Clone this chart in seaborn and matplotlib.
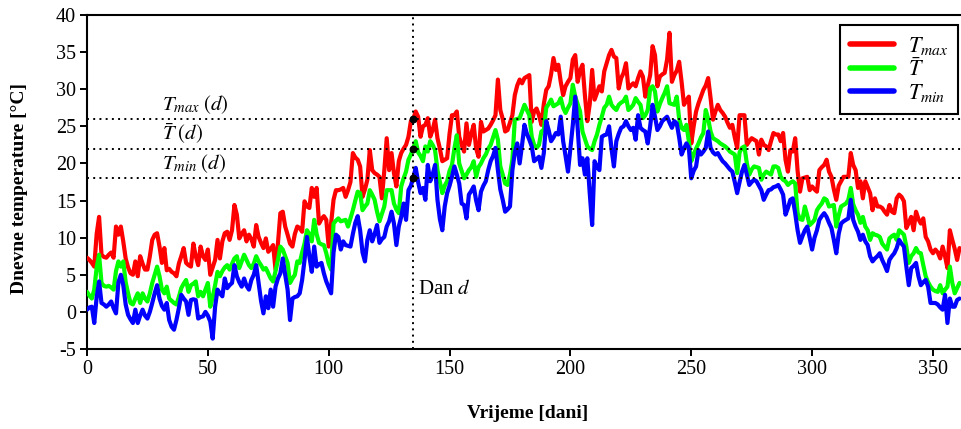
import numpy as np
import pandas as pd
import matplotlib
matplotlib.use("Agg")
import matplotlib.pyplot as plt
import seaborn as sns

# ---------------- data ----------------
days = list(range(362))

t_max = [
    7.3, 7.0, 6.6, 6.1, 10.5, 12.8, 7.7, 7.4, 7.3, 7.7,
    8.0, 7.3, 11.5, 10.4, 11.5, 9.5, 7.2, 6.0, 5.2, 5.0,
    6.8, 4.8, 7.5, 6.5, 5.7, 5.7, 7.5, 9.7, 10.4, 10.6,
    8.8, 6.6, 8.6, 5.6, 5.8, 5.4, 5.2, 4.8, 6.5, 7.5,
    8.6, 6.6, 6.3, 6.1, 9.2, 7.5, 6.3, 8.8, 7.5, 7.0,
    8.4, 5.0, 6.0, 7.0, 9.7, 7.2, 9.5, 10.6, 10.8, 9.7,
    11.0, 14.4, 13.1, 9.9, 10.5, 11.0, 9.5, 10.4, 9.8, 8.8,
    11.7, 10.1, 9.3, 8.6, 9.9, 8.1, 8.5, 9.0, 5.7, 9.2,
    13.3, 13.5, 11.5, 10.4, 9.2, 8.8, 10.5, 11.5, 11.3, 10.8,
    14.9, 14.2, 14.0, 16.7, 15.5, 16.7, 11.9, 12.5, 12.9, 12.4,
    8.8, 12.0, 15.1, 16.4, 16.4, 16.5, 16.7, 15.5, 16.4, 17.5,
    21.4, 20.8, 20.5, 19.6, 15.5, 16.5, 17.8, 21.8, 19.1, 18.7,
    18.5, 18.2, 15.3, 19.0, 23.4, 19.1, 21.4, 18.7, 16.9, 20.3,
    21.4, 22.0, 22.5, 23.6, 25.7, 26.0, 27.0, 26.3, 23.6, 25.0,
    25.2, 26.1, 23.6, 24.5, 25.9, 23.4, 22.0, 20.3, 20.5, 20.7,
    24.0, 26.5, 26.5, 27.0, 23.6, 22.5, 21.6, 25.4, 22.5, 24.0,
    25.2, 22.0, 20.9, 25.6, 24.3, 24.5, 24.7, 25.2, 25.8, 26.5,
    31.3, 27.2, 26.0, 24.3, 24.5, 25.5, 26.5, 29.2, 30.5, 31.3,
    30.8, 31.5, 31.7, 31.9, 25.6, 27.0, 27.4, 26.5, 25.2, 28.0,
    29.9, 30.4, 32.0, 34.2, 32.6, 33.3, 31.0, 29.2, 30.4, 31.0,
    31.5, 34.0, 34.6, 31.0, 32.5, 33.3, 29.2, 25.7, 28.0, 32.6,
    28.6, 29.5, 30.4, 29.7, 32.4, 33.5, 34.6, 35.3, 34.4, 34.2,
    30.1, 31.5, 32.2, 33.5, 30.1, 30.5, 30.8, 30.4, 31.5, 32.4,
    31.7, 29.0, 30.5, 31.9, 35.8, 34.6, 30.4, 31.7, 32.0, 32.2,
    34.0, 37.6, 31.0, 31.9, 32.5, 33.7, 31.0, 27.9, 28.5, 29.0,
    22.7, 25.0, 27.0, 28.1, 29.0, 29.9, 30.5, 31.5, 28.8, 25.9,
    27.0, 27.9, 27.2, 26.8, 26.3, 25.5, 24.8, 25.2, 23.5, 22.1,
    26.5, 26.5, 26.5, 22.5, 23.0, 23.4, 23.2, 23.0, 21.2, 23.2,
    22.5, 22.3, 21.8, 23.0, 24.1, 23.9, 23.9, 23.0, 24.1, 20.5,
    18.9, 21.8, 21.6, 23.4, 19.0, 16.2, 18.0, 18.1, 18.2, 16.4,
    16.9, 16.5, 16.2, 19.1, 19.5, 19.8, 20.5, 18.9, 18.2, 16.5,
    15.1, 17.0, 17.6, 18.2, 18.2, 18.2, 21.4, 19.8, 19.1, 16.7,
    17.6, 15.3, 17.6, 16.8, 16.0, 13.7, 15.3, 14.2, 14.2, 14.0,
    13.5, 13.1, 14.4, 13.5, 13.3, 15.3, 15.8, 15.5, 14.9, 11.3,
    12.0, 12.8, 11.0, 13.5, 12.5, 11.9, 12.6, 10.1, 9.5, 8.4,
    7.9, 8.4, 8.0, 7.2, 8.8, 7.5, 5.9, 11.0, 9.7, 8.5,
    7.0, 8.6,
]

t_mean = [
    2.7, 2.2, 1.8, 3.0, 6.0, 7.7, 3.9, 3.5, 3.4, 3.5,
    3.3, 3.0, 5.5, 6.8, 6.1, 6.8, 4.0, 2.5, 1.2, 1.0,
    1.8, 2.5, 1.2, 2.5, 1.8, 1.4, 2.5, 3.9, 5.0, 6.1,
    4.8, 3.0, 2.5, 3.4, 1.8, 1.5, 1.2, 1.0, 2.0, 3.2,
    3.8, 4.3, 2.7, 3.6, 3.8, 4.1, 2.1, 2.7, 2.1, 3.0,
    3.9, 0.7, 2.0, 3.6, 5.4, 4.8, 5.5, 6.0, 6.3, 5.7,
    6.5, 7.2, 7.5, 5.9, 6.8, 7.7, 7.0, 6.3, 5.9, 6.5,
    7.5, 6.8, 6.3, 5.7, 5.9, 5.2, 4.5, 4.1, 5.5, 7.0,
    8.8, 8.4, 7.5, 6.6, 3.9, 4.5, 5.0, 6.8, 6.6, 8.0,
    9.2, 11.0, 10.5, 9.5, 12.4, 10.5, 9.3, 9.1, 9.0, 7.9,
    6.5, 5.7, 11.9, 12.3, 12.6, 12.2, 12.3, 12.4, 11.5, 12.6,
    13.7, 15.0, 16.2, 16.0, 13.7, 14.2, 14.6, 16.4, 15.8, 15.1,
    13.5, 12.2, 13.2, 14.2, 16.4, 16.4, 16.4, 14.6, 13.8, 13.3,
    16.9, 18.0, 18.9, 20.5, 21.2, 22.1, 23.0, 21.5, 21.0, 20.3,
    22.3, 21.6, 23.0, 22.5, 21.8, 19.1, 17.5, 16.0, 17.0, 17.6,
    19.0, 19.8, 22.0, 23.8, 20.0, 19.0, 18.0, 18.5, 19.1, 19.5,
    20.3, 18.2, 19.5, 20.0, 20.7, 21.2, 22.0, 22.5, 23.5, 24.5,
    23.2, 19.6, 18.5, 17.3, 17.1, 18.5, 20.5, 25.9, 26.0, 26.1,
    27.0, 27.9, 27.2, 26.5, 23.6, 22.5, 22.1, 22.5, 24.3, 24.5,
    27.5, 28.0, 28.6, 27.7, 27.9, 28.1, 28.8, 27.5, 26.8, 27.5,
    28.1, 30.6, 29.0, 28.0, 27.0, 24.3, 23.3, 22.3, 22.0, 21.8,
    23.0, 23.9, 25.2, 26.3, 27.5, 27.9, 29.0, 27.9, 27.5, 27.2,
    27.9, 28.2, 28.4, 29.0, 27.2, 27.5, 27.9, 28.8, 28.3, 27.9,
    26.1, 26.5, 27.2, 30.1, 30.4, 29.7, 27.0, 28.0, 28.8, 29.5,
    30.4, 28.1, 28.0, 27.9, 29.0, 26.0, 24.8, 24.5, 25.2, 23.0,
    20.3, 21.2, 22.0, 22.7, 23.5, 24.1, 27.2, 26.0, 24.3, 23.4,
    23.2, 23.0, 22.7, 22.5, 22.3, 22.0, 21.6, 21.4, 21.2, 18.7,
    21.5, 22.1, 22.3, 20.0, 18.5, 19.2, 19.6, 19.5, 19.4, 17.8,
    18.5, 18.9, 18.7, 18.5, 19.6, 19.6, 19.4, 18.2, 17.8, 17.6,
    17.1, 17.4, 17.6, 17.3, 13.3, 12.5, 12.4, 14.2, 13.0, 11.7,
    12.0, 12.4, 13.7, 14.2, 14.6, 15.3, 15.1, 14.2, 14.3, 14.4,
    11.5, 13.0, 14.2, 14.4, 14.6, 15.1, 16.7, 14.5, 13.7, 13.1,
    12.0, 12.8, 11.5, 11.0, 9.7, 10.6, 10.4, 10.3, 10.1, 9.2,
    8.8, 8.4, 9.9, 10.2, 10.4, 9.7, 11.0, 10.7, 10.4, 8.8,
    6.6, 7.5, 7.9, 8.6, 8.0, 7.9, 6.3, 4.8, 4.0, 3.4,
    3.0, 2.8, 2.7, 3.6, 2.5, 3.0, 3.4, 6.1, 3.9, 2.5,
    3.2, 3.9,
]

t_min = [
    0.3, 0.6, 0.7, -1.5, 2.0, 4.1, 1.2, 1.0, 0.7, 1.0,
    1.4, 0.5, -0.2, 4.0, 5.0, 3.6, 1.0, -0.4, -1.0, -1.5,
    0.3, -1.5, -0.5, 0.3, -0.5, -0.9, 0.0, 1.2, 2.5, 3.6,
    1.8, 0.8, 0.3, 1.2, -1.1, -2.0, -2.4, -1.1, 0.5, 2.3,
    1.8, 1.4, -0.4, 1.6, 1.7, 1.6, -0.9, -0.7, -0.6, 0.0,
    -0.5, -1.3, -3.6, 0.7, 3.0, 2.5, 2.1, 4.5, 3.2, 3.6,
    3.9, 6.3, 4.8, 4.0, 3.4, 4.5, 3.5, 3.0, 4.3, 5.0,
    6.3, 3.9, 1.5, -0.2, 2.1, 0.5, 3.0, 0.7, 3.4, 4.5,
    5.2, 7.2, 5.0, 3.0, -1.1, 1.8, 2.0, 2.1, 2.5, 4.3,
    7.0, 10.1, 7.5, 5.4, 8.8, 6.1, 6.4, 6.6, 5.2, 4.1,
    3.3, 2.5, 8.0, 10.4, 10.1, 8.4, 9.5, 9.0, 8.9, 8.8,
    10.5, 12.0, 12.9, 11.0, 8.0, 6.8, 9.7, 11.0, 9.5, 10.5,
    11.7, 9.3, 9.8, 10.1, 11.5, 12.2, 13.5, 11.9, 9.0, 11.5,
    12.8, 14.6, 12.4, 16.4, 17.0, 18.1, 19.4, 17.5, 16.0, 16.7,
    15.1, 19.8, 17.6, 18.5, 19.8, 15.1, 12.5, 11.0, 14.2, 16.0,
    17.0, 18.2, 19.6, 18.5, 17.3, 14.6, 14.4, 12.6, 15.8, 16.3,
    16.9, 15.0, 13.7, 16.2, 17.0, 17.6, 19.1, 20.3, 21.0, 22.1,
    19.1, 16.5, 15.1, 13.5, 13.8, 14.2, 19.1, 21.5, 22.7, 20.0,
    22.5, 25.2, 24.0, 23.2, 22.3, 20.3, 20.6, 20.9, 19.4, 21.4,
    25.7, 24.5, 23.0, 23.5, 24.1, 23.9, 26.3, 23.0, 21.0, 18.9,
    22.0, 25.2, 29.0, 24.8, 19.8, 20.7, 18.5, 20.7, 16.0, 11.7,
    20.3, 19.5, 19.1, 23.6, 23.8, 23.9, 25.0, 22.0, 19.6, 23.0,
    24.0, 24.8, 25.0, 25.7, 25.0, 24.5, 24.8, 23.2, 26.5, 24.8,
    24.5, 24.3, 22.7, 25.0, 27.9, 26.3, 24.5, 25.0, 25.7, 26.0,
    26.3, 25.5, 24.8, 25.7, 25.4, 23.5, 21.2, 22.0, 22.7, 22.1,
    18.0, 19.0, 19.6, 21.8, 21.2, 21.6, 22.1, 24.3, 22.1, 21.5,
    21.2, 21.4, 20.8, 20.3, 20.0, 19.6, 19.2, 18.9, 17.5, 16.0,
    17.5, 18.9, 19.8, 18.5, 17.1, 17.5, 17.8, 17.6, 17.0, 16.4,
    15.1, 15.8, 16.4, 16.5, 16.8, 16.9, 17.1, 16.5, 15.8, 13.1,
    14.0, 15.1, 15.3, 13.3, 11.0, 9.3, 10.2, 11.0, 11.5, 10.0,
    8.4, 10.0, 11.0, 12.4, 12.9, 13.3, 12.8, 12.0, 11.3, 9.7,
    7.9, 10.5, 11.9, 12.2, 12.4, 12.6, 15.1, 12.4, 11.5, 10.8,
    9.7, 10.4, 9.5, 9.0, 7.5, 6.8, 7.2, 7.5, 7.9, 7.0,
    6.3, 5.5, 7.0, 7.5, 7.9, 8.6, 9.7, 9.2, 8.8, 6.1,
    3.6, 5.9, 6.2, 6.6, 4.8, 3.6, 4.0, 4.3, 3.4, 1.2,
    1.2, 1.2, 1.0, 0.6, 0.3, 2.3, -1.5, 1.8, 0.7, 0.7,
    1.6, 1.8,
]

series_labels = [r"$T_{max}$", r"$\bar{T}$", r"$T_{min}$"]
series_colors = ["#ff0000", "#00ff00", "#0000ff"]

day_d = 135
levels_d = [26, 22, 18]
level_texts = [r"$T_{max}\;(d)$", r"$\bar{T}\;(d)$", r"$T_{min}\;(d)$"]

x_ticks = [0, 50, 100, 150, 200, 250, 300, 350]
y_ticks = [-5, 0, 5, 10, 15, 20, 25, 30, 35, 40]

# ---------------- styling ----------------
sns.set_theme(style="ticks")
plt.rcParams["font.family"] = ["Liberation Serif", "DejaVu Serif"]
plt.rcParams["mathtext.fontset"] = "stix"
plt.rcParams["axes.unicode_minus"] = False
for key in ["text.color", "axes.labelcolor", "xtick.color", "ytick.color", "axes.edgecolor"]:
    plt.rcParams[key] = "black"

df = pd.DataFrame({
    "dan": days * 3,
    "T": t_max + t_mean + t_min,
    "serija": [lab for lab in series_labels for _ in days],
})

W, H = 961, 429
fig = plt.figure(figsize=(W / 100, H / 100), dpi=100)
ax_l, ax_t, ax_r, ax_b = 87, 15, 961, 349
ax = fig.add_axes([ax_l / W, 1 - ax_b / H, (ax_r - ax_l) / W, (ax_b - ax_t) / H])

sns.lineplot(data=df, x="dan", y="T", hue="serija", hue_order=series_labels,
             palette=series_colors, linewidth=3.0, errorbar=None, ax=ax, zorder=3)

dot_style = dict(color="black", linestyle=(0, (1, 2.2)), linewidth=1.4, zorder=4)
for lv in levels_d:
    ax.axhline(lv, **dot_style)
ax.axvline(day_d, **dot_style)
ax.scatter([day_d] * len(levels_d), levels_d, s=22, color="black", zorder=6)

for txt, lv in zip(level_texts, levels_d):
    ax.text(31, lv + 1.2, txt, fontsize=15, ha="left", va="baseline")
ax.text(137, 2.4, r"Dan $d$", fontsize=15, ha="left", va="baseline")

ax.set_xlim(0, (ax_r - ax_l) / 2.417)
ax.set_ylim(-5, 40)
ax.set_xticks(x_ticks)
ax.set_yticks(y_ticks)
ax.tick_params(direction="out", length=5, width=1.4, labelsize=14.5, colors="black", pad=3)

for side in ["left", "bottom", "top"]:
    ax.spines[side].set_linewidth(1.5)
    ax.spines[side].set_color("black")
ax.spines["right"].set_visible(False)

ax.set_xlabel("Vrijeme [dani]", fontsize=14, fontweight="bold")
ax.set_ylabel("Dnevne temperature [°C]", fontsize=14, fontweight="bold")
ax.xaxis.set_label_coords((528 - ax_l) / (ax_r - ax_l), (ax_b - 405) / (ax_b - ax_t))
ax.yaxis.set_label_coords((28 - ax_l) / (ax_r - ax_l), (ax_b - 188) / (ax_b - ax_t))

handles, labels = ax.get_legend_handles_labels()
for h in handles:
    h.set_linewidth(4)
leg = ax.legend(handles, labels, loc="upper right",
                bbox_to_anchor=((958 - ax_l) / (ax_r - ax_l), 1 - (25 - ax_t) / (ax_b - ax_t)),
                frameon=True, fancybox=False, edgecolor="black", framealpha=1,
                fontsize=16, handlelength=2.0, handletextpad=0.6, borderpad=0.45,
                labelspacing=0.05, borderaxespad=0)
leg.get_frame().set_linewidth(1.5)

fig.savefig("out.png", dpi=100)
